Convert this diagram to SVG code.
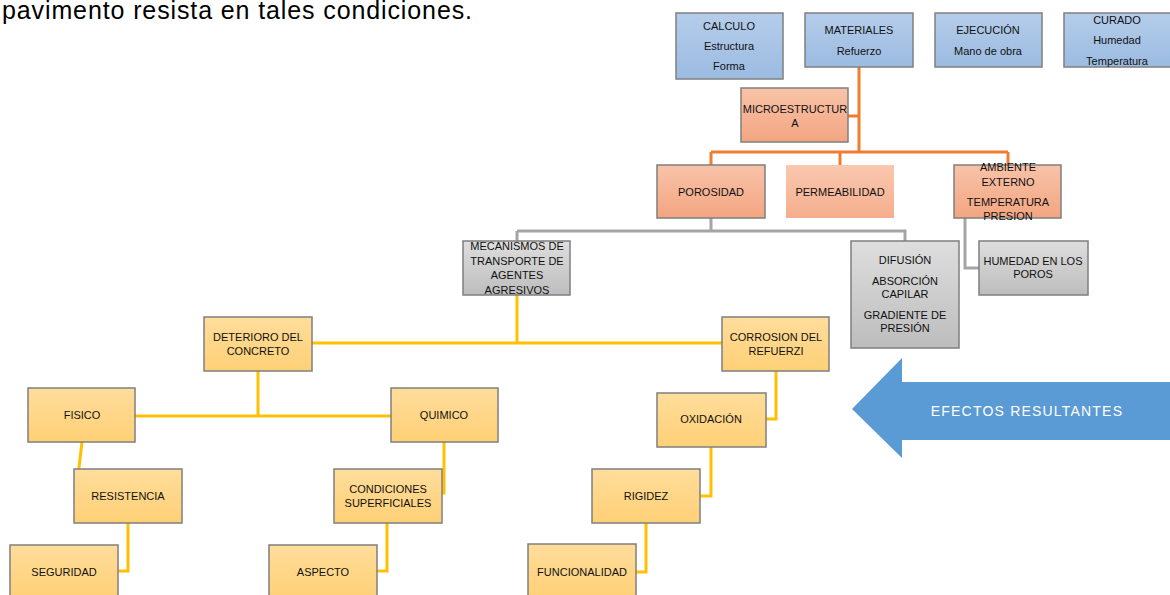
<svg xmlns="http://www.w3.org/2000/svg" width="1170" height="595" viewBox="0 0 1170 595">
<defs>
<linearGradient id="gBlue" x1="0" y1="0" x2="0" y2="1"><stop offset="0" stop-color="#b5cdea"/><stop offset="1" stop-color="#9bbbe1"/></linearGradient>
<linearGradient id="gOr" x1="0" y1="0" x2="0" y2="1"><stop offset="0" stop-color="#f8c3a8"/><stop offset="1" stop-color="#f3a581"/></linearGradient>
<linearGradient id="gOr2" x1="0" y1="0" x2="0" y2="1"><stop offset="0" stop-color="#f9c8b0"/><stop offset="1" stop-color="#f5ae8c"/></linearGradient>
<linearGradient id="gGr" x1="0" y1="0" x2="0" y2="1"><stop offset="0" stop-color="#dedede"/><stop offset="1" stop-color="#bdbdbd"/></linearGradient>
<linearGradient id="gYe" x1="0" y1="0" x2="0" y2="1"><stop offset="0" stop-color="#ffdd9c"/><stop offset="1" stop-color="#ffd076"/></linearGradient>
</defs>
<style>
.b{stroke:#7f7f7f;stroke-width:1.5}
.blue{fill:url(#gBlue)}
.or{fill:url(#gOr)}
.gr{fill:url(#gGr)}
.ye{fill:url(#gYe)}
text{font-family:"Liberation Sans",Arial,sans-serif;font-size:11px;fill:#111111;text-anchor:middle;dominant-baseline:central}
.cY{fill:none;stroke:#ffc000;stroke-width:3}
.cO{fill:none;stroke:#ed7d31;stroke-width:3}
.cG{fill:none;stroke:#a5a5a5;stroke-width:3}
</style>
<rect width="1170" height="595" fill="#ffffff"/>
<text x="2" y="19" style="font-size:25px;text-anchor:start;dominant-baseline:alphabetic;fill:#000" textLength="470">pavimento resista en tales condiciones.</text>

<g id="connectors">
<path class="cO" d="M859,67 V152 M848,116 H859 M711,152 H1008 M711,152 V165 M840,152 V165 M1008,152 V165"/>
<path class="cG" d="M711,218 V231 M517,231 H905 V241 M517,231 V241 M965,218 V268 H979"/>
<path class="cY" d="M517,295 V343 M312,343 H722 M258,371 V416 M135,416 H391 M82,442 L76,493 M444,442 V493 H442 M128,523 V571 H118 M387,523 V571 H377 M776,371 V419 H766 M711,447 V496 H700 M646,523 V572 H636"/>
</g>

<g id="calculo"><rect class="b blue" x="676" y="13" width="107" height="66"/><text x="729" y="26">CALCULO</text><text x="729" y="46">Estructura</text><text x="729" y="66">Forma</text></g>
<g id="materiales"><rect class="b blue" x="805" y="13" width="108" height="54"/><text x="859" y="30">MATERIALES</text><text x="859" y="51">Refuerzo</text></g>
<g id="ejecucion"><rect class="b blue" x="935" y="13" width="107" height="54"/><text x="988" y="30">EJECUCIÓN</text><text x="988" y="51">Mano de obra</text></g>
<g id="curado"><rect class="b blue" x="1064" y="13" width="108" height="54"/><text x="1117" y="20">CURADO</text><text x="1117" y="40">Humedad</text><text x="1117" y="61">Temperatura</text></g>

<g id="microestructura"><rect class="b or" x="741" y="88" width="107" height="54"/><text x="795" y="109">MICROESTRUCTUR</text><text x="795" y="123">A</text></g>
<g id="porosidad"><rect class="b or" x="657" y="165" width="108" height="53"/><text x="711" y="192">POROSIDAD</text></g>
<g id="permeabilidad"><rect fill="url(#gOr2)" x="786" y="165" width="108" height="53"/><text x="840" y="192">PERMEABILIDAD</text></g>
<g id="ambiente"><rect class="b or" x="954" y="165" width="107" height="53"/><text x="1008" y="167">AMBIENTE</text><text x="1008" y="182">EXTERNO</text><text x="1008" y="202">TEMPERATURA</text><text x="1008" y="216">PRESION</text></g>

<g id="mecanismos"><rect class="b gr" x="463" y="241" width="107" height="54"/><text x="517" y="246">MECANISMOS DE</text><text x="517" y="261">TRANSPORTE DE</text><text x="517" y="275">AGENTES</text><text x="517" y="290">AGRESIVOS</text></g>
<g id="difusion"><rect class="b gr" x="851" y="241" width="108" height="107"/><text x="905" y="260">DIFUSIÓN</text><text x="905" y="281">ABSORCIÓN</text><text x="905" y="294">CAPILAR</text><text x="905" y="315">GRADIENTE DE</text><text x="905" y="328">PRESIÓN</text></g>
<g id="humedad"><rect class="b gr" x="979" y="241" width="109" height="54"/><text x="1033" y="261">HUMEDAD EN LOS</text><text x="1033" y="274">POROS</text></g>

<g id="deterioro"><rect class="b ye" x="204" y="317" width="108" height="54"/><text x="258" y="337">DETERIORO DEL</text><text x="258" y="351">CONCRETO</text></g>
<g id="corrosion"><rect class="b ye" x="722" y="317" width="107" height="54"/><text x="776" y="337">CORROSION DEL</text><text x="776" y="351">REFUERZI</text></g>
<g id="fisico"><rect class="b ye" x="28" y="388" width="107" height="54"/><text x="82" y="415">FISICO</text></g>
<g id="quimico"><rect class="b ye" x="391" y="388" width="107" height="54"/><text x="444" y="415">QUIMICO</text></g>
<g id="oxidacion"><rect class="b ye" x="657" y="393" width="109" height="54"/><text x="711" y="419">OXIDACIÓN</text></g>
<g id="resistencia"><rect class="b ye" x="74" y="469" width="108" height="54"/><text x="128" y="496">RESISTENCIA</text></g>
<g id="condiciones"><rect class="b ye" x="334" y="469" width="108" height="54"/><text x="388" y="489">CONDICIONES</text><text x="388" y="503">SUPERFICIALES</text></g>
<g id="rigidez"><rect class="b ye" x="592" y="469" width="108" height="54"/><text x="646" y="496">RIGIDEZ</text></g>
<g id="seguridad"><rect class="b ye" x="10" y="545" width="108" height="54"/><text x="64" y="572">SEGURIDAD</text></g>
<g id="aspecto"><rect class="b ye" x="269" y="545" width="108" height="54"/><text x="323" y="572">ASPECTO</text></g>
<g id="funcionalidad"><rect class="b ye" x="528" y="544" width="108" height="55"/><text x="582" y="572">FUNCIONALIDAD</text></g>

<g id="efectos">
<polygon points="852,409 902,358 902,382 1172,382 1172,440 902,440 902,458" fill="#5b9bd5"/>
<text x="1027" y="411" style="fill:#ffffff;font-size:14px;letter-spacing:1.2px">EFECTOS RESULTANTES</text>
</g>
</svg>
